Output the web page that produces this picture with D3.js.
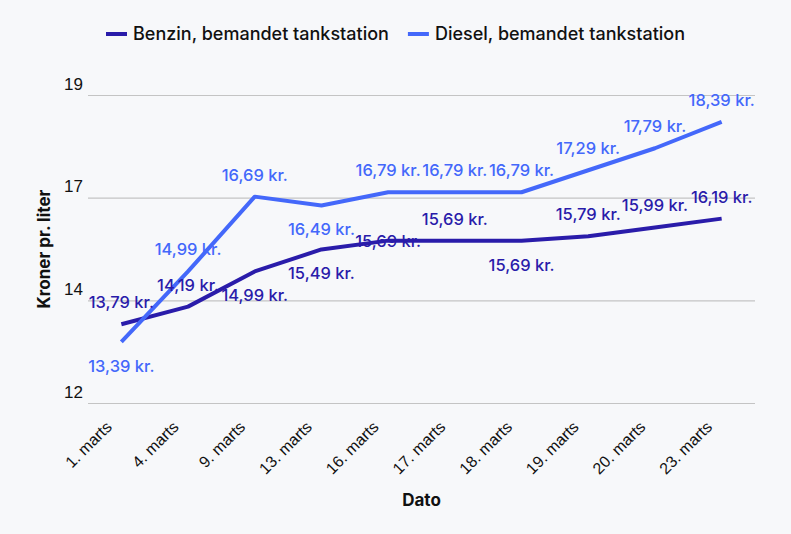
<!DOCTYPE html>
<html>
<head>
<meta charset="utf-8">
<script src="https://cdn.jsdelivr.net/npm/d3@7"></script>
<style>
  html, body { margin: 0; padding: 0; background: #f7f8fa; }
  svg { display: block; font-family: Inter, "Noto Sans", sans-serif; }
</style>
</head>
<body>
<div id="chart"></div>
<script>
//////// data
const dates = ["1. marts", "4. marts", "9. marts", "13. marts", "16. marts",
               "17. marts", "18. marts", "19. marts", "20. marts", "23. marts"];
const benzin = [13.79, 14.19, 14.99, 15.49, 15.69, 15.69, 15.69, 15.79, 15.99, 16.19];
const diesel = [13.39, 14.99, 16.69, 16.49, 16.79, 16.79, 16.79, 17.29, 17.79, 18.39];
const yTicks = [12, 14.333, 16.667, 19];

// where each value label sits relative to its point
const benzinLabelPos = ["up", "up", "down", "down", "mid", "up", "down", "up", "up", "up"];
const dieselLabelPos = ["down", "up", "up", "down", "up", "up", "up", "up", "up", "up"];

const series = [
  { name: "Benzin, bemandet tankstation", values: benzin, pos: benzinLabelPos, color: "#2a1caa" },
  { name: "Diesel, bemandet tankstation", values: diesel, pos: dieselLabelPos, color: "#4468fa" }
];

//////// layout
const width = 791, height = 534;
const margin = { top: 95, right: 36, bottom: 131, left: 88 };

const svg = d3.select("#chart").append("svg")
  .attr("width", width)
  .attr("height", height);

const x = d3.scalePoint()
  .domain(dates)
  .range([margin.left, width - margin.right])
  .padding(0.5);

const y = d3.scaleLinear()
  .domain([12, 19])
  .range([height - margin.bottom, margin.top]);

// gridlines + y tick labels
const yAxis = svg.append("g")
  .attr("transform", `translate(${margin.left},0)`)
  .call(d3.axisLeft(y).tickValues(yTicks).tickFormat(d3.format(".0f"))
    .tickSize(-(width - margin.left - margin.right)));
yAxis.select(".domain").remove();
yAxis.selectAll(".tick line").attr("stroke", "#c4c4c4").attr("stroke-width", 1.2);
yAxis.selectAll(".tick text")
  .attr("x", -24)
  .attr("dy", -6)
  .attr("text-anchor", "start")
  .attr("fill", "#111")
  .style("font-size", "17px");

// x axis
const xAxis = svg.append("g")
  .attr("transform", `translate(0,${height - margin.bottom})`)
  .call(d3.axisBottom(x).tickSize(0));
xAxis.select(".domain").remove();
xAxis.selectAll(".tick text")
  .attr("fill", "#111")
  .style("font-size", "16px")
  .style("font-weight", "500")
  .attr("text-anchor", "end")
  .attr("dy", 0)
  .attr("transform", "translate(-9,25) rotate(-45)")
  .attr("x", 0).attr("y", 0);

// axis titles
svg.append("text")
  .attr("x", (margin.left + width - margin.right) / 2)
  .attr("y", 506)
  .attr("text-anchor", "middle")
  .style("font-size", "17px")
  .style("font-weight", "700")
  .attr("fill", "#111")
  .text("Dato");

svg.append("text")
  .attr("transform", `translate(50,${(margin.top + height - margin.bottom) / 2}) rotate(-90)`)
  .attr("text-anchor", "middle")
  .style("font-size", "17px")
  .style("font-weight", "700")
  .attr("fill", "#111")
  .text("Kroner pr. liter");

// lines
const line = d3.line()
  .x((d, i) => x(dates[i]))
  .y(d => y(d));

series.forEach(s => {
  svg.append("path")
    .datum(s.values)
    .attr("fill", "none")
    .attr("stroke", s.color)
    .attr("stroke-width", 4)
    .attr("stroke-linejoin", "round")
    .attr("d", line);
});

// value labels
const offset = { up: -16, down: 30, mid: 6 };
series.forEach(s => {
  svg.append("g")
    .selectAll("text")
    .data(s.values)
    .enter().append("text")
    .attr("x", (d, i) => x(dates[i]))
    .attr("y", (d, i) => y(d) + offset[s.pos[i]])
    .attr("text-anchor", "middle")
    .attr("fill", s.color)
    .style("font-size", "16.5px")
    .style("font-weight", "500")
    .text(d => d3.format(".2f")(d).replace(".", ",") + " kr.");
});

// legend
const legend = svg.append("g").attr("transform", "translate(106,34)");
let lx = 0;
series.forEach(s => {
  const g = legend.append("g").attr("transform", `translate(${lx},0)`);
  g.append("line")
    .attr("x1", 0).attr("x2", 21)
    .attr("stroke", s.color)
    .attr("stroke-width", 4);
  const t = g.append("text")
    .attr("x", 27)
    .attr("dy", "0.35em")
    .attr("fill", "#111")
    .style("font-size", "18px")
    .style("font-weight", "500")
    .text(s.name);
  lx += 27 + t.node().getComputedTextLength() + 19;
});
</script>
</body>
</html>
